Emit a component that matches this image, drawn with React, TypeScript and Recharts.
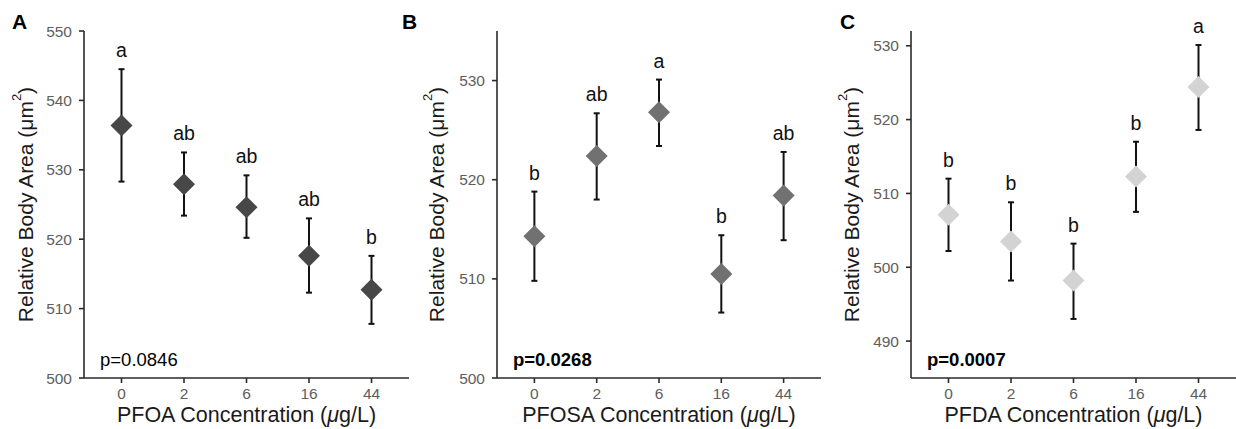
import { ErrorBar, Scatter, ScatterChart, XAxis, YAxis } from "recharts";

const concentrations = ["0", "2", "6", "16", "44"];

// PFOA
const pfoaMean = [536.4, 527.9, 524.6, 517.6, 512.7];
const pfoaUpper = [544.5, 532.5, 529.2, 523.0, 517.6];
const pfoaLower = [528.3, 523.4, 520.2, 512.3, 507.8];
const pfoaGroups = ["a", "ab", "ab", "ab", "b"];

// PFOSA
const pfosaMean = [514.3, 522.4, 526.8, 510.5, 518.4];
const pfosaUpper = [518.8, 526.7, 530.1, 514.4, 522.8];
const pfosaLower = [509.8, 518.0, 523.4, 506.6, 513.9];
const pfosaGroups = ["b", "ab", "a", "b", "ab"];

// PFDA
const pfdaMean = [507.1, 503.5, 498.2, 512.3, 524.4];
const pfdaUpper = [512.0, 508.8, 503.2, 517.0, 530.1];
const pfdaLower = [502.2, 498.2, 493.0, 507.5, 518.6];
const pfdaGroups = ["b", "b", "b", "b", "a"];

const FONT = "'Liberation Sans', Arial, Helvetica, sans-serif";
const HEIGHT = 429;
const TOP = 31;
const X_AXIS_H = 40;
const BOTTOM = 11;
const Y_AXIS_W = 50;

type Panel = {
  tag: string;
  compound: string;
  pValue: string;
  pBold: boolean;
  mean: number[];
  upper: number[];
  lower: number[];
  groups: string[];
  color: string;
  domain: [number, number];
  ticks: number[];
  left: number;
  width: number;
  marginLeft: number;
  marginRight: number;
  titleX: number;
  tagX: number;
};

const panels: Panel[] = [
  {
    tag: "A",
    compound: "PFOA",
    pValue: "p=0.0846",
    pBold: false,
    mean: pfoaMean,
    upper: pfoaUpper,
    lower: pfoaLower,
    groups: pfoaGroups,
    color: "#474747",
    domain: [500, 550],
    ticks: [500, 510, 520, 530, 540, 550],
    left: 0,
    width: 410,
    marginLeft: 34,
    marginRight: 1,
    titleX: 25,
    tagX: 12,
  },
  {
    tag: "B",
    compound: "PFOSA",
    pValue: "p=0.0268",
    pBold: true,
    mean: pfosaMean,
    upper: pfosaUpper,
    lower: pfosaLower,
    groups: pfosaGroups,
    color: "#717171",
    domain: [500, 535],
    ticks: [500, 510, 520, 530],
    left: 400,
    width: 422,
    marginLeft: 47,
    marginRight: 1,
    titleX: 36,
    tagX: 2,
  },
  {
    tag: "C",
    compound: "PFDA",
    pValue: "p=0.0007",
    pBold: true,
    mean: pfdaMean,
    upper: pfdaUpper,
    lower: pfdaLower,
    groups: pfdaGroups,
    color: "#d3d3d3",
    domain: [485, 532],
    ticks: [490, 500, 510, 520, 530],
    left: 830,
    width: 406,
    marginLeft: 31,
    marginRight: 0,
    titleX: 21,
    tagX: 10,
  },
];

const Diamond = (props: any) => {
  const { cx, cy, fill } = props;
  const r = 11;
  return (
    <polygon
      points={`${cx},${cy - r} ${cx + r},${cy} ${cx},${cy + r} ${cx - r},${cy}`}
      fill={fill}
    />
  );
};

const GroupLetter = (props: any) => {
  const { cx, cy, payload } = props;
  return (
    <text x={cx} y={cy - 12} textAnchor="middle" fontSize={19.5} fontFamily={FONT} fill="#111">
      {payload.letter}
    </text>
  );
};

function PanelChart({ p }: { p: Panel }) {
  const points = concentrations.map((c, i) => ({
    x: i + 1,
    y: p.mean[i],
    err: [p.mean[i] - p.lower[i], p.upper[i] - p.mean[i]],
  }));
  const letters = concentrations.map((c, i) => ({
    x: i + 1,
    y: p.upper[i],
    letter: p.groups[i],
  }));

  const plotLeft = p.marginLeft + Y_AXIS_W;
  const plotRight = p.width - p.marginRight;
  const plotBottom = HEIGHT - BOTTOM - X_AXIS_H;
  const midY = (TOP + plotBottom) / 2;

  const decor = () => (
    <g fontFamily={FONT}>
      <text x={p.tagX} y={29} fontSize={21} fontWeight="bold" fill="#000">
        {p.tag}
      </text>
      <text
        x={p.titleX}
        y={midY}
        transform={`rotate(-90 ${p.titleX} ${midY})`}
        textAnchor="middle"
        dominantBaseline="central"
        fontSize={21}
        fill="#1a1a1a"
      >
        Relative Body Area (μm
        <tspan fontSize={13} dy={-9}>
          2
        </tspan>
        <tspan dy={9}>)</tspan>
      </text>
      <text
        x={plotLeft + 16}
        y={plotBottom - 12}
        fontSize={18.5}
        fontWeight={p.pBold ? "bold" : "normal"}
        fill="#000"
      >
        {p.pValue}
      </text>
      <text x={(plotLeft + plotRight) / 2} y={422} textAnchor="middle" fontSize={21.5} fill="#1a1a1a">
        {p.compound} Concentration (<tspan fontStyle="italic">μ</tspan>g/L)
      </text>
    </g>
  );

  return (
    <div style={{ position: "absolute", left: p.left, top: 0 }}>
      <ScatterChart
        width={p.width}
        height={HEIGHT}
        margin={{ top: TOP, right: p.marginRight, bottom: BOTTOM, left: p.marginLeft }}
      >
        <XAxis
          type="number"
          dataKey="x"
          domain={[0.4, 5.6]}
          ticks={[1, 2, 3, 4, 5]}
          tickFormatter={(v: number) => concentrations[v - 1]}
          interval={0}
          height={X_AXIS_H}
          tickSize={5}
          tickMargin={5}
          stroke="#2b2b2b"
          strokeWidth={1.6}
          tick={{ fill: "#5e5e5e", fontSize: 15.5, fontFamily: FONT }}
        />
        <YAxis
          type="number"
          dataKey="y"
          domain={p.domain}
          ticks={p.ticks}
          interval={0}
          width={Y_AXIS_W}
          tickSize={5}
          tickMargin={7}
          stroke="#2b2b2b"
          strokeWidth={1.6}
          tick={{ fill: "#5e5e5e", fontSize: 15.5, fontFamily: FONT }}
          label={decor}
        />
        <Scatter data={points} fill={p.color} shape={Diamond} isAnimationActive={false}>
          <ErrorBar dataKey="err" direction="y" width={3} stroke="#111" strokeWidth={2} isAnimationActive={false} />
        </Scatter>
        <Scatter data={letters} shape={GroupLetter} isAnimationActive={false} />
      </ScatterChart>
    </div>
  );
}

export default function App() {
  return (
    <div style={{ position: "absolute", left: 0, top: 0, width: 1236, height: 429, background: "#fff" }}>
      {panels.map((p) => (
        <PanelChart key={p.tag} p={p} />
      ))}
    </div>
  );
}
